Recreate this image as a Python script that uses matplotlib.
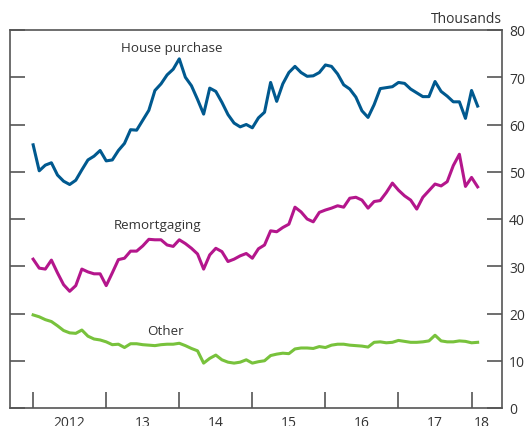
import numpy as np
import matplotlib
matplotlib.use('Agg')
import matplotlib.pyplot as plt

# Monthly data, Jan 2012 - Feb 2018 (thousands)
house_purchase = [55.7, 50.2, 51.4, 51.9, 49.3, 48.0, 47.3, 48.2, 50.4, 52.5, 53.3, 54.5,
                  52.3, 52.5, 54.5, 56.0, 58.9, 58.8, 60.9, 63.0, 67.2, 68.6, 70.5, 71.7,
                  73.9, 70.0, 68.2, 65.3, 62.2, 67.7, 67.0, 64.7, 62.1, 60.3, 59.5, 60.0,
                  59.3, 61.4, 62.6, 68.9, 64.9, 68.6, 71.0, 72.3, 71.0, 70.2, 70.3, 71.0,
                  72.6, 72.3, 70.7, 68.4, 67.5, 65.8, 62.9, 61.5, 64.2, 67.6, 67.8, 68.0,
                  68.9, 68.7, 67.5, 66.7, 65.9, 65.9, 69.1, 67.0, 66.0, 64.8, 64.8, 61.3,
                  67.2, 63.9]
remortgaging = [31.5, 29.6, 29.4, 31.3, 28.6, 26.1, 24.7, 25.9, 29.4, 28.8, 28.4, 28.4,
                25.9, 28.6, 31.4, 31.7, 33.2, 33.2, 34.3, 35.7, 35.6, 35.6, 34.5, 34.2,
                35.6, 34.8, 33.8, 32.6, 29.4, 32.4, 33.8, 33.1, 31.0, 31.5, 32.2, 32.7,
                31.7, 33.7, 34.5, 37.5, 37.3, 38.2, 38.9, 42.5, 41.5, 40.0, 39.4, 41.4,
                41.9, 42.3, 42.8, 42.5, 44.4, 44.6, 44.0, 42.3, 43.7, 43.9, 45.6, 47.6,
                46.1, 44.9, 44.0, 42.1, 44.6, 46.0, 47.4, 47.0, 47.9, 51.3, 53.7, 46.9,
                48.8, 46.8]
other = [19.7, 19.3, 18.7, 18.3, 17.4, 16.4, 15.9, 15.8, 16.5, 15.2, 14.6, 14.4,
         14.0, 13.4, 13.5, 12.8, 13.6, 13.6, 13.4, 13.3, 13.2, 13.4, 13.5, 13.5,
         13.7, 13.2, 12.6, 12.1, 9.5, 10.5, 11.2, 10.2, 9.7, 9.5, 9.7, 10.2,
         9.5, 9.8, 10.0, 11.1, 11.4, 11.6, 11.5, 12.5, 12.7, 12.7, 12.6, 13.0,
         12.8, 13.3, 13.5, 13.5, 13.3, 13.2, 13.1, 12.9, 13.9, 14.0, 13.8, 13.9,
         14.3, 14.1, 13.9, 13.9, 14.0, 14.2, 15.4, 14.2, 14.0, 14.0, 14.2, 14.1,
         13.8, 13.9]

year_labels = ['2012', '13', '14', '15', '16', '17', '18']
y_ticks = [0, 10, 20, 30, 40, 50, 60, 70, 80]

plt.rcParams['font.family'] = ['Open Sans', 'DejaVu Sans']
text_col = '#333333'
spine_col = '#555555'

months = np.arange(len(house_purchase))

fig = plt.figure(figsize=(5.28, 4.27), dpi=100)
ax = fig.add_axes([10/528, 1 - 409/427, 492/528, 378/427])

ax.plot(months, house_purchase, color='#00598f', lw=2.2)
ax.plot(months, remortgaging, color='#b4168c', lw=2.2)
ax.plot(months, other, color='#78c23c', lw=2.2)

ax.set_xlim(-3.8, 77)
ax.set_ylim(0, 80)

# year ticks at start of each year, labels centred in the year
ax.set_xticks([0, 12, 24, 36, 48, 60, 72])
ax.set_xticklabels([])
ax.set_xticks([6, 18, 30, 42, 54, 66, 73.7], minor=True)
ax.set_xticklabels(year_labels, minor=True)
ax.tick_params(axis='x', which='major', direction='in', length=11.5, width=1.2, color=spine_col)
ax.tick_params(axis='x', which='minor', length=0, pad=5, labelsize=10, labelcolor=text_col)

ax.set_yticks(y_ticks)
ax.yaxis.tick_right()
ax.tick_params(axis='y', direction='in', length=10.5, width=1.2, color=spine_col,
               left=True, right=True, labelleft=False, labelright=True,
               pad=5, labelsize=10, labelcolor=text_col)

for s in ax.spines.values():
    s.set_color(spine_col)
    s.set_linewidth(1.2)

ax.text(1.0, 1.022, 'Thousands', transform=ax.transAxes, ha='right', va='baseline',
        fontsize=10, color=text_col)

ax.text(22.7, 76.2, 'House purchase', ha='center', va='center', fontsize=9.6, color=text_col)
ax.text(20.5, 38.9, 'Remortgaging', ha='center', va='center', fontsize=9.6, color=text_col)
ax.text(21.8, 16.3, 'Other', ha='center', va='center', fontsize=9.6, color=text_col)

fig.savefig('out.png', dpi=100)
